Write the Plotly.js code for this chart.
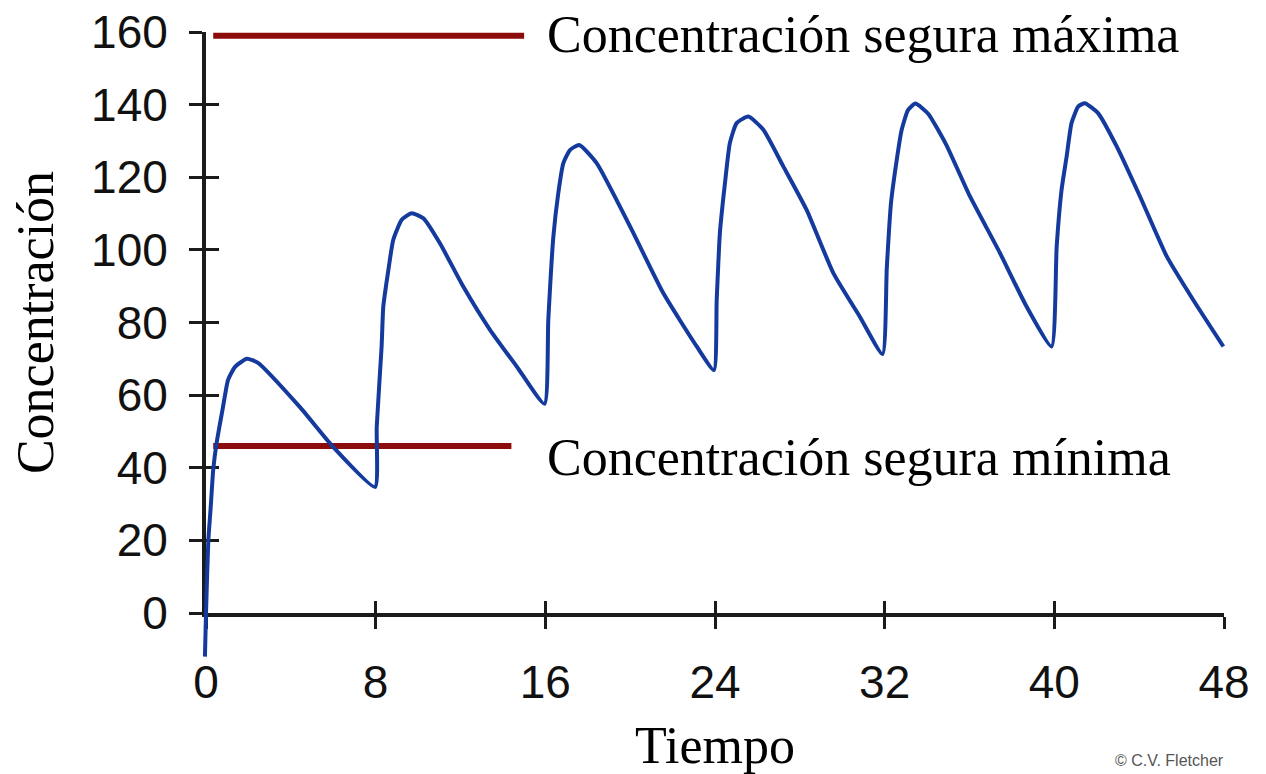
<!DOCTYPE html>
<html>
<head>
<meta charset="utf-8">
<script src="https://cdn.plot.ly/plotly-3.0.1.min.js"></script>
<style>
html,body{margin:0;padding:0;background:#fff;}
#chart{width:1266px;height:774px;}
</style>
</head>
<body>
<div id="chart"></div>
<script>
// ---- Data ----
const timeH = [
  -0.05, 0.0, 0.11, 0.22, 0.34, 0.5, 0.8, 1.04, 1.37, 1.93, 2.45, 4.43, 6.0, 7.97,
  8.05, 8.28, 8.36, 8.6, 8.83, 9.23, 9.7, 10.25, 11.03, 12.13, 13.39, 14.65, 15.96,
  16.14, 16.38, 16.61, 16.85, 17.16, 17.6, 18.42, 20.0, 21.56, 23.14, 23.95,
  24.08, 24.23, 24.47, 24.7, 25.02, 25.57, 26.28, 27.22, 28.32, 29.58, 30.83, 31.9,
  32.1, 32.3, 32.55, 32.8, 33.1, 33.45, 34.05, 34.9, 36.0, 37.43, 38.69, 39.87,
  40.11, 40.34, 40.58, 40.81, 41.13, 41.44, 42.07, 42.94, 44.04, 45.3, 46.55, 47.97
];
const concentration = [
  -12, 0, 20, 29, 39.4, 46.8, 56.7, 64.2, 67.8, 70, 68.9, 56.7, 45.7, 34.7,
  51.3, 73.4, 84.4, 94.5, 102.8, 108.3, 110.1, 108.7, 101.8, 89.9, 78, 67.9, 57.6,
  80.7, 103.7, 115.6, 123.9, 127.5, 128.9, 123.9, 106.4, 88.1, 73.4, 66.9,
  86.2, 104.6, 118.4, 129.4, 134.9, 136.7, 133.1, 123, 111, 93.6, 81.6, 71.3,
  95, 113, 124, 133, 138.5, 140.3, 137.5, 129, 115, 99.2, 84.4, 73.4,
  100.9, 116.5, 125.7, 134.9, 139.5, 140.4, 137.6, 128.5, 114.7, 98.2, 86.2, 73.4
];
const safeLevels = [159, 46];
const safeStart = [0.34, 0.34];
const safeEnd = [15, 14.4];
const safeLabels = ['Concentración segura máxima', 'Concentración segura mínima'];
const xTicks = [0, 8, 16, 24, 32, 40, 48];
const yTicks = [0, 20, 40, 60, 80, 100, 120, 140, 160];
const labelX = 16;
const xTitle = 'Tiempo';
const yTitle = 'Concentración';
const credit = '© C.V. Fletcher';

// ---- Layout geometry ----
const W = 1266, H = 774;
const axL = 206, axR = 1224, axT = 32, axB = 613;   // pixel box of the main axes
const padL = 22, padR = 12, padB = 60;              // room for the curve outside the axes
const mL = axL - padL, mR = W - axR - padR, mT = axT, mB = H - axB - padB;
const plotW = W - mL - mR, plotH = H - mT - mB;
const xRange = [0, 48];
const yRange = [0, 160];
const pxPerX = (axR - axL) / (xRange[1] - xRange[0]);
const pxPerY = (axB - axT) / (yRange[1] - yRange[0]);
const xDomMain = [padL / plotW, 1 - padR / plotW];
const yDomMain = [padB / plotH, 1];
const x2Range = [xRange[0] - padL / pxPerX, xRange[1] + padR / pxPerX];
const y2Range = [yRange[0] - padB / pxPerY, yRange[1]];

const axisColor = '#1b1b1b';
const tickFont = {family: 'Liberation Sans, Arial, sans-serif', size: 46, color: '#111'};
const titleFont = {family: 'Liberation Serif, Times New Roman, serif', size: 52, color: '#000'};

const traces = [
  {
    x: timeH, y: concentration, xaxis: 'x2', yaxis: 'y2',
    type: 'scatter', mode: 'lines',
    line: {color: '#143a9d', width: 4, shape: 'spline', smoothing: 0.5},
    hoverinfo: 'x+y'
  },
  {
    x: [safeStart[0], safeEnd[0]], y: [safeLevels[0], safeLevels[0]],
    xaxis: 'x', yaxis: 'y', type: 'scatter', mode: 'lines',
    line: {color: '#8c0b0b', width: 6}
  },
  {
    x: [safeStart[1], safeEnd[1]], y: [safeLevels[1], safeLevels[1]],
    xaxis: 'x3', yaxis: 'y3', type: 'scatter', mode: 'lines',
    line: {color: '#8c0b0b', width: 6}
  }
];

const baseAxis = {showgrid: false, zeroline: false, fixedrange: true};

const layout = {
  width: W, height: H,
  margin: {l: mL, r: mR, t: mT, b: mB, pad: 0},
  paper_bgcolor: '#ffffff',
  plot_bgcolor: 'rgba(0,0,0,0)',
  showlegend: false,
  xaxis: Object.assign({}, baseAxis, {
    domain: xDomMain, range: xRange, anchor: 'y',
    showline: true, linecolor: axisColor, linewidth: 4,
    ticks: 'outside', ticklen: 12, tickwidth: 3, tickcolor: axisColor,
    tickmode: 'array', tickvals: xTicks, ticktext: xTicks.map(String),
    tickfont: tickFont, ticklabelstandoff: 14,
    title: {text: xTitle, font: titleFont, standoff: 26}
  }),
  yaxis: Object.assign({}, baseAxis, {
    domain: yDomMain, range: yRange, anchor: 'x',
    showline: true, linecolor: axisColor, linewidth: 4,
    ticks: 'outside', ticklen: 13, tickwidth: 3, tickcolor: axisColor,
    tickmode: 'array', tickvals: yTicks, ticktext: yTicks.map(String),
    tickfont: tickFont, ticklabelstandoff: 12,
    title: {text: yTitle, font: titleFont, standoff: 22}
  }),
  xaxis3: Object.assign({}, baseAxis, {
    overlaying: 'x', anchor: 'y3', range: xRange,
    showline: false, showticklabels: false,
    ticks: 'inside', ticklen: 12, tickwidth: 3, tickcolor: axisColor,
    tickmode: 'array', tickvals: xTicks
  }),
  yaxis3: Object.assign({}, baseAxis, {
    overlaying: 'y', anchor: 'x3', range: yRange,
    showline: false, showticklabels: false,
    ticks: 'inside', ticklen: 13, tickwidth: 3, tickcolor: axisColor,
    tickmode: 'array', tickvals: yTicks
  }),
  xaxis2: Object.assign({}, baseAxis, {
    domain: [0, 1], range: x2Range, anchor: 'y2', visible: false
  }),
  yaxis2: Object.assign({}, baseAxis, {
    domain: [0, 1], range: y2Range, anchor: 'x2', visible: false
  }),
  annotations: [
    {
      xref: 'x', yref: 'y', x: labelX, y: safeLevels[0],
      xanchor: 'left', yanchor: 'middle', showarrow: false,
      text: safeLabels[0], font: titleFont, yshift: 1
    },
    {
      xref: 'x', yref: 'y', x: labelX, y: safeLevels[1],
      xanchor: 'left', yanchor: 'middle', showarrow: false,
      text: safeLabels[1], font: titleFont, yshift: -12
    },
    {
      xref: 'paper', yref: 'paper',
      x: (1113 - mL) / plotW, y: (H - mB - 750) / plotH,
      xanchor: 'left', yanchor: 'top', showarrow: false,
      text: credit, font: {family: 'Liberation Sans, Arial, sans-serif', size: 16, color: '#555'}
    }
  ]
};

Plotly.newPlot('chart', traces, layout, {displayModeBar: false, staticPlot: true});
</script>
</body>
</html>
